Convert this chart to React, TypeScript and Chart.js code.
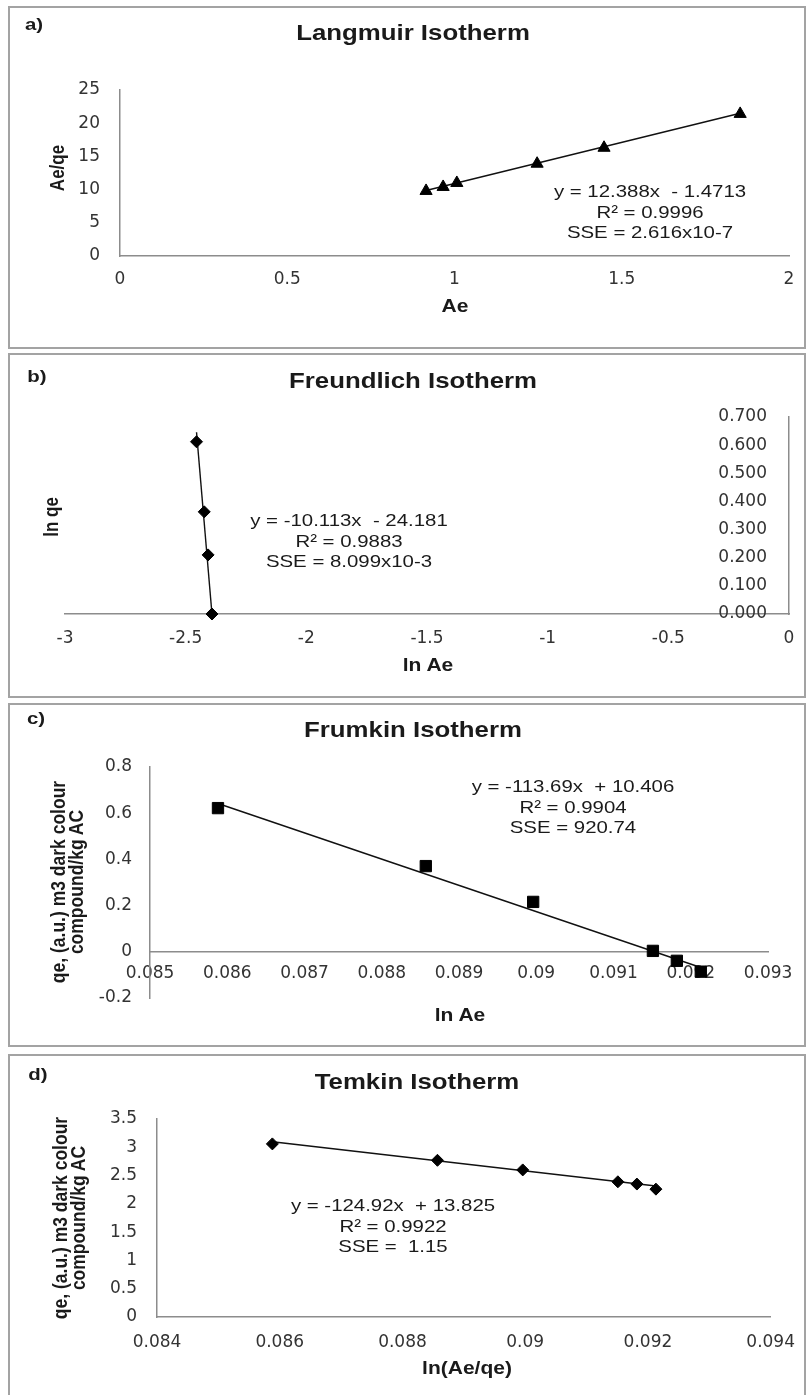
import React, { useEffect, useRef } from 'react';
import { Chart, registerables } from 'chart.js';

Chart.register(...registerables);

// ---------- Langmuir ----------
const langmuirAe = [0.915, 0.966, 1.007, 1.247, 1.447, 1.854];
const langmuirAeQe = [9.8, 10.4, 11.0, 13.9, 16.3, 21.4];
const langmuirFitX = [0.915, 1.854];
const langmuirFitY = [9.86, 21.5];
const langmuirXTicks = [0, 0.5, 1, 1.5, 2];
const langmuirXLabels = ['0', '0.5', '1', '1.5', '2'];
const langmuirYTicks = [0, 5, 10, 15, 20, 25];
const langmuirYLabels = ['0', '5', '10', '15', '20', '25'];

// ---------- Freundlich ----------
const freundlichLnAe = [-2.455, -2.423, -2.407, -2.391];
const freundlichLnQe = [0.612, 0.363, 0.21, 0.0];
const freundlichFitX = [-2.455, -2.391];
const freundlichFitY = [0.646, 0.0];
const freundlichXTicks = [-3, -2.5, -2, -1.5, -1, -0.5, 0];
const freundlichXLabels = ['-3', '-2.5', '-2', '-1.5', '-1', '-0.5', '0'];
const freundlichYTicks = [0, 0.1, 0.2, 0.3, 0.4, 0.5, 0.6, 0.7];
const freundlichYLabels = ['0.000', '0.100', '0.200', '0.300', '0.400', '0.500', '0.600', '0.700'];

// ---------- Frumkin ----------
const frumkinLnAe = [0.08588, 0.08857, 0.08996, 0.09151, 0.09182, 0.09213];
const frumkinQe = [0.622, 0.371, 0.216, 0.004, -0.039, -0.086];
const frumkinFitX = [0.08588, 0.09213];
const frumkinFitY = [0.642, -0.068];
const frumkinXTicks = [0.085, 0.086, 0.087, 0.088, 0.089, 0.09, 0.091, 0.092, 0.093];
const frumkinXLabels = ['0.085', '0.086', '0.087', '0.088', '0.089', '0.09', '0.091', '0.092', '0.093'];
const frumkinYTicks = [-0.2, 0, 0.2, 0.4, 0.6, 0.8];
const frumkinYLabels = ['-0.2', '0', '0.2', '0.4', '0.6', '0.8'];

// ---------- Temkin ----------
const temkinLnAeQe = [0.08588, 0.08857, 0.08996, 0.09151, 0.09182, 0.09213];
const temkinQe = [3.06, 2.77, 2.6, 2.39, 2.35, 2.26];
const temkinFitX = [0.08588, 0.09213];
const temkinFitY = [3.097, 2.316];
const temkinXTicks = [0.084, 0.086, 0.088, 0.09, 0.092, 0.094];
const temkinXLabels = ['0.084', '0.086', '0.088', '0.09', '0.092', '0.094'];
const temkinYTicks = [0, 0.5, 1, 1.5, 2, 2.5, 3, 3.5];
const temkinYLabels = ['0', '0.5', '1', '1.5', '2', '2.5', '3', '3.5'];

const TICK_FONT = { family: 'DejaVu Sans', size: 17 };
const TICK_COLOR = '#333333';
const AXIS_COLOR = '#8c8c8c';
const STRETCH = 1.2;

type AxisSpec = {
  position: any;
  min: number;
  max: number;
  ticks: number[];
  labels: string[];
  padding: number;
  size?: number;
  mirror?: boolean;
};

type PanelSpec = {
  id: string;
  top: number;
  height: number;
  xs: number[];
  ys: number[];
  fitX: number[];
  fitY: number[];
  pointStyle: string;
  radius: number;
  padding: { left: number; right: number; top: number; bottom: number };
  x: AxisSpec;
  y: AxisSpec;
};

function makeAxis(a: AxisSpec, horizontal: boolean) {
  const cfg: any = {
    type: 'linear',
    position: a.position,
    min: a.min,
    max: a.max,
    grid: { display: false, drawTicks: false },
    border: { display: true, color: AXIS_COLOR, width: 1.5 },
    ticks: {
      font: TICK_FONT,
      color: TICK_COLOR,
      padding: a.padding,
      autoSkip: false,
      maxRotation: 0,
      minRotation: 0,
      mirror: !!a.mirror,
      callback: (_v: any, i: number) => a.labels[i] ?? '',
    },
    afterBuildTicks: (sc: any) => {
      sc.ticks = a.ticks.map((v) => ({ value: v }));
    },
  };
  if (a.size !== undefined) {
    cfg.afterFit = (sc: any) => {
      if (horizontal) sc.height = a.size;
      else sc.width = a.size;
    };
  }
  return cfg;
}

function buildConfig(s: PanelSpec): any {
  return {
    type: 'scatter',
    data: {
      datasets: [
        {
          data: s.xs.map((x, i) => ({ x, y: s.ys[i] })),
          pointStyle: s.pointStyle,
          pointRadius: s.radius,
          pointBackgroundColor: '#000',
          pointBorderColor: '#000',
          pointBorderWidth: 1,
          showLine: false,
          clip: false,
        },
        {
          data: s.fitX.map((x, i) => ({ x, y: s.fitY[i] })),
          showLine: true,
          borderColor: '#111',
          borderWidth: 1.4,
          pointRadius: 0,
          fill: false,
          clip: false,
        },
      ],
    },
    options: {
      animation: false,
      responsive: false,
      maintainAspectRatio: false,
      events: [],
      layout: { padding: s.padding },
      plugins: {
        legend: { display: false },
        tooltip: { enabled: false },
        title: { display: false },
      },
      scales: {
        x: makeAxis(s.x, true),
        y: makeAxis(s.y, false),
      },
    },
  };
}

const panels: PanelSpec[] = [
  {
    id: 'a',
    top: 6,
    height: 343,
    xs: langmuirAe,
    ys: langmuirAeQe,
    fitX: langmuirFitX,
    fitY: langmuirFitY,
    pointStyle: 'triangle',
    radius: 7,
    padding: { left: 60, right: 21, top: 84, bottom: 53 },
    x: { position: 'bottom', min: 0, max: 2, ticks: langmuirXTicks, labels: langmuirXLabels, padding: 13, size: 40 },
    y: { position: 'left', min: 0, max: 25, ticks: langmuirYTicks, labels: langmuirYLabels, padding: 20, size: 60 },
  },
  {
    id: 'b',
    top: 353,
    height: 345,
    xs: freundlichLnAe,
    ys: freundlichLnQe,
    fitX: freundlichFitX,
    fitY: freundlichFitY,
    pointStyle: 'rectRot',
    radius: 6,
    padding: { left: 65, right: 21, top: 64, bottom: 44 },
    x: { position: 'bottom', min: -3, max: 0, ticks: freundlichXTicks, labels: freundlichXLabels, padding: 14, size: 40 },
    y: { position: 'right', min: 0, max: 0.7, ticks: freundlichYTicks, labels: freundlichYLabels, padding: -22, size: 0, mirror: true },
  },
  {
    id: 'c',
    top: 703,
    height: 344,
    xs: frumkinLnAe,
    ys: frumkinQe,
    fitX: frumkinFitX,
    fitY: frumkinFitY,
    pointStyle: 'rect',
    radius: 8,
    padding: { left: 90, right: 42, top: 64, bottom: 49 },
    x: { position: { y: 0 }, min: 0.085, max: 0.093, ticks: frumkinXTicks, labels: frumkinXLabels, padding: 12 },
    y: { position: 'left', min: -0.2, max: 0.8, ticks: frumkinYTicks, labels: frumkinYLabels, padding: 18, size: 60 },
  },
  {
    id: 'd',
    top: 1054,
    height: 341,
    xs: temkinLnAeQe,
    ys: temkinQe,
    fitX: temkinFitX,
    fitY: temkinFitY,
    pointStyle: 'rectRot',
    radius: 6,
    padding: { left: 97, right: 33, top: 65, bottom: 38 },
    x: { position: 'bottom', min: 0.084, max: 0.094, ticks: temkinXTicks, labels: temkinXLabels, padding: 15, size: 40 },
    y: { position: 'left', min: 0, max: 3.5, ticks: temkinYTicks, labels: temkinYLabels, padding: 20, size: 60 },
  },
];

const frames = [
  { top: 6, bottom: 349 },
  { top: 353, bottom: 698 },
  { top: 703, bottom: 1047 },
  { top: 1054, bottom: 1402 },
];

type TextItem = {
  lines: string[];
  x: number;
  y: number;
  size: number;
  bold?: boolean;
  rotate?: boolean;
  lineHeight?: number;
};

const texts: TextItem[] = [
  // panel letters
  { lines: ['a)'], x: 34, y: 25, size: 17, bold: true },
  { lines: ['b)'], x: 37, y: 377, size: 17, bold: true },
  { lines: ['c)'], x: 36, y: 719, size: 17, bold: true },
  { lines: ['d)'], x: 38, y: 1075, size: 17, bold: true },
  // titles
  { lines: ['Langmuir Isotherm'], x: 413, y: 33, size: 21.5, bold: true },
  { lines: ['Freundlich Isotherm'], x: 413, y: 381, size: 21.5, bold: true },
  { lines: ['Frumkin Isotherm'], x: 413, y: 730, size: 21.5, bold: true },
  { lines: ['Temkin Isotherm'], x: 417, y: 1082, size: 21.5, bold: true },
  // x axis titles
  { lines: ['Ae'], x: 455, y: 306, size: 17.5, bold: true },
  { lines: ['ln Ae'], x: 428, y: 665, size: 17.5, bold: true },
  { lines: ['ln Ae'], x: 460, y: 1015, size: 17.5, bold: true },
  { lines: ['ln(Ae/qe)'], x: 467, y: 1368, size: 17.5, bold: true },
  // y axis titles
  { lines: ['Ae/qe'], x: 58, y: 168, size: 17, bold: true, rotate: true },
  { lines: ['ln qe'], x: 52, y: 517, size: 17, bold: true, rotate: true },
  { lines: ['qe, (a.u.) m3 dark colour', 'compound/kg AC'], x: 67, y: 882, size: 17.5, bold: true, rotate: true, lineHeight: 14.5 },
  { lines: ['qe, (a.u.) m3 dark colour', 'compound/kg AC'], x: 69, y: 1218, size: 17.5, bold: true, rotate: true, lineHeight: 14.5 },
  // equations
  { lines: ['y = 12.388x  - 1.4713', 'R² = 0.9996', 'SSE = 2.616x10-7'], x: 650, y: 213, size: 17, lineHeight: 20.5 },
  { lines: ['y = -10.113x  - 24.181', 'R² = 0.9883', 'SSE = 8.099x10-3'], x: 349, y: 542, size: 17, lineHeight: 20.5 },
  { lines: ['y = -113.69x  + 10.406', 'R² = 0.9904', 'SSE = 920.74'], x: 573, y: 808, size: 17, lineHeight: 20.5 },
  { lines: ['y = -124.92x  + 13.825', 'R² = 0.9922', 'SSE =  1.15'], x: 393, y: 1227, size: 17, lineHeight: 20.5 },
];

function PanelChart({ spec }: { spec: PanelSpec }) {
  const ref = useRef<HTMLCanvasElement | null>(null);
  useEffect(() => {
    if (!ref.current) return;
    const chart = new Chart(ref.current, buildConfig(spec));
    return () => chart.destroy();
  }, [spec]);
  return (
    <canvas
      ref={ref}
      width={810}
      height={spec.height}
      style={{ position: 'absolute', left: 0, top: spec.top, width: 810, height: spec.height }}
    />
  );
}

function Label({ t }: { t: TextItem }) {
  const lh = t.lineHeight ?? Math.round(t.size * 1.2);
  return (
    <div
      style={{
        position: 'absolute',
        left: t.x,
        top: t.y,
        transform: `translate(-50%, -50%) scaleX(${STRETCH})${t.rotate ? ' rotate(-90deg)' : ''}`,
        fontFamily: '"Liberation Sans", Arial, sans-serif',
        fontSize: t.size,
        fontWeight: t.bold ? 700 : 400,
        lineHeight: `${lh}px`,
        color: '#1a1a1a',
        whiteSpace: 'pre',
        textAlign: 'center',
      }}
    >
      {t.lines.map((l, i) => (
        <div key={i}>{l}</div>
      ))}
    </div>
  );
}

export default function App() {
  return (
    <div
      style={{
        position: 'absolute',
        left: 0,
        top: 0,
        width: 810,
        height: 1395,
        overflow: 'hidden',
        background: '#ffffff',
        fontFamily: '"Liberation Sans", sans-serif',
      }}
    >
      {frames.map((f, i) => (
        <div
          key={i}
          style={{
            position: 'absolute',
            left: 8,
            top: f.top,
            width: 798,
            height: f.bottom - f.top,
            boxSizing: 'border-box',
            border: '2px solid #a3a3a3',
          }}
        />
      ))}
      {panels.map((p) => (
        <PanelChart key={p.id} spec={p} />
      ))}
      {texts.map((t, i) => (
        <Label key={i} t={t} />
      ))}
    </div>
  );
}
